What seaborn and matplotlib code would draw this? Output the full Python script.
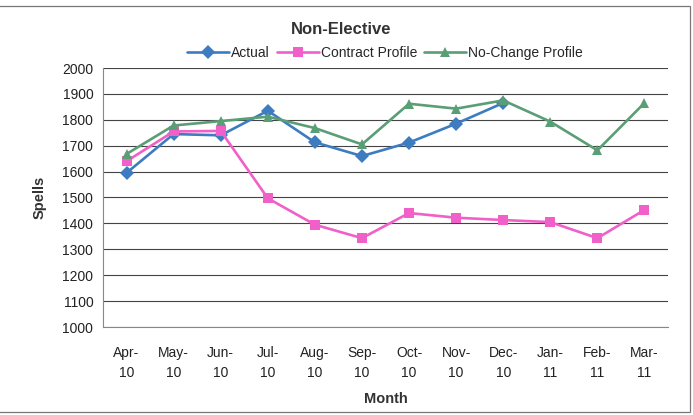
import matplotlib
matplotlib.use("Agg")
import matplotlib.pyplot as plt
from matplotlib.patches import Rectangle
from matplotlib.lines import Line2D
import numpy as np
import pandas as pd
import seaborn as sns

months = ["Apr-\n10", "May-\n10", "Jun-\n10", "Jul-\n10", "Aug-\n10", "Sep-\n10",
          "Oct-\n10", "Nov-\n10", "Dec-\n10", "Jan-\n11", "Feb-\n11", "Mar-\n11"]
actual = [1595, 1745, 1740, 1835, 1713, 1660, 1712, 1785, 1865, np.nan, np.nan, np.nan]
contract_profile = [1640, 1755, 1757, 1497, 1395, 1343, 1440, 1422, 1413, 1405, 1343, 1452]
no_change_profile = [1668, 1778, 1795, 1812, 1768, 1705, 1862, 1843, 1875, 1793, 1682, 1865]

series_names = ["Actual", "Contract Profile", "No-Change Profile"]
colors = {"Actual": "#3d7cc0", "Contract Profile": "#f060c8", "No-Change Profile": "#5a9e76"}
markers = {"Actual": "D", "Contract Profile": "s", "No-Change Profile": "^"}

rows = []
for name, vals in zip(series_names, [actual, contract_profile, no_change_profile]):
    for i, v in enumerate(vals):
        rows.append({"idx": i, "Spells": v, "Series": name})
df = pd.DataFrame(rows).dropna()

sns.set_theme(style="white")
plt.rcParams["font.family"] = ["Liberation Sans", "DejaVu Sans"]

fig = plt.figure(figsize=(6.93, 4.15), dpi=100)
ax = fig.add_axes([103 / 693, 1 - 327 / 415, 565 / 693, 259 / 415])

sns.lineplot(data=df, x="idx", y="Spells", hue="Series", style="Series",
             hue_order=series_names, style_order=series_names,
             palette=colors, markers=markers, dashes=False, markersize=7.5,
             markeredgewidth=0, linewidth=1.9, legend=False, ax=ax)

ax.set_xlim(-0.5, 11.5)
ax.set_ylim(1000, 2000)
ax.set_yticks(np.arange(1000, 2001, 100))
ax.set_xticks(range(len(months)))
ax.set_xticklabels(months, fontsize=10, color="#222222", linespacing=1.55)
ax.set_xticks(np.arange(-0.5, 12, 1), minor=True)
ax.tick_params(axis="x", which="major", length=0, pad=14)
ax.tick_params(axis="x", which="minor", length=4, width=0.8, color="#888888", direction="out")
ax.tick_params(axis="y", length=4, width=0.8, color="#888888", direction="out",
               labelsize=10, labelcolor="#222222", pad=3)
ax.yaxis.grid(True, color="#444444", linewidth=0.8)
ax.set_axisbelow(True)
for side in ["top", "right"]:
    ax.spines[side].set_visible(False)
for side in ["left", "bottom"]:
    ax.spines[side].set_color("#888888")
    ax.spines[side].set_linewidth(0.8)

ax.set_xlabel("Month", fontsize=10.5, fontweight="bold", color="#333333", labelpad=8)
ax.set_ylabel("Spells", fontsize=10.5, fontweight="bold", color="#333333", labelpad=11)

fig.text(341 / 693, 1 - 30 / 415, "Non-Elective", ha="center", va="center",
         fontsize=12, fontweight="bold", color="#333333")

handles = [Line2D([], [], color=colors[n], marker=markers[n], markersize=7,
                  markeredgewidth=0, linewidth=1.9) for n in series_names]
fig.legend(handles, series_names, loc="center", bbox_to_anchor=(385 / 693, 1 - 53 / 415),
           ncol=3, frameon=False, handlelength=3.0, handletextpad=0.15,
           columnspacing=0.5, prop={"stretch": "condensed", "size": 10})

fig.patches.append(Rectangle((-0.01, 3 / 415), 690 / 693 + 0.01, 406 / 415,
                             transform=fig.transFigure, fill=False,
                             edgecolor="#777777", linewidth=0.9))

fig.savefig("out.png", dpi=100)
